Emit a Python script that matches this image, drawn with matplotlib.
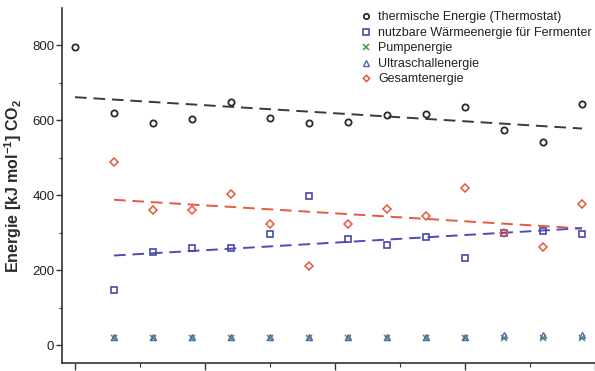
import numpy as np
import matplotlib
matplotlib.use("Agg")
import matplotlib.pyplot as plt
from matplotlib.ticker import MultipleLocator, NullFormatter

plt.rcParams['font.family'] = ['Liberation Sans', 'DejaVu Sans']
plt.rcParams['mathtext.fontset'] = 'custom'
plt.rcParams['mathtext.rm'] = 'Liberation Sans'
plt.rcParams['mathtext.it'] = 'Liberation Sans:italic'
plt.rcParams['mathtext.bf'] = 'Liberation Sans:bold'

# x positions of measurements (arbitrary units, no tick labels in the original)
x_all = [0, 3, 6, 9, 12, 15, 18, 21, 24, 27, 30, 33, 36, 39]
x_rest = x_all[1:]

thermisch = [795, 620, 593, 603, 648, 605, 591, 594, 613, 616, 634, 573, 541, 644]
nutzbar = [147, 247, 260, 260, 296, 397, 284, 267, 289, 231, 298, 305, 296]
pumpe = [18, 18, 18, 18, 18, 18, 18, 18, 18, 18, 18, 18, 18]
ultraschall = [21, 21, 21, 21, 21, 21, 21, 21, 21, 21, 27, 27, 28]
gesamt = [489, 360, 360, 404, 324, 211, 324, 364, 344, 420, 300, 262, 377]

labels = ["thermische Energie (Thermostat)",
          "nutzbare Wärmeenergie für Fermenter",
          "Pumpenergie",
          "Ultraschallenergie",
          "Gesamtenergie"]

c_black = '#2b2b2b'
c_blue = '#4a45a8'
c_green = '#3c9a4c'
c_tri = '#5566c0'
c_red = '#e4573d'

fig = plt.figure(figsize=(5.95, 3.71), dpi=100)
ax = fig.add_axes([62/595, 8/371, 1 - 62/595, 1 - 16/371])

ax.plot(x_all, thermisch, 'o', ms=4.5, mfc='none', mec=c_black, mew=1.3, label=labels[0], zorder=3)
ax.plot(x_rest, nutzbar, 's', ms=4.8, mfc='none', mec=c_blue, mew=1.2, label=labels[1], zorder=3)
ax.plot(x_rest, pumpe, 'x', ms=4.5, mec=c_green, mew=1.1, label=labels[2], zorder=3)
ax.plot(x_rest, ultraschall, '^', ms=4.5, mfc='none', mec=c_tri, mew=1.0, label=labels[3], zorder=3)
ax.plot(x_rest, gesamt, 'D', ms=3.8, mfc='none', mec=c_red, mew=1.1, label=labels[4], zorder=3)

# linear trend lines
def trend(x, y, color):
    x = np.asarray(x, float)
    p = np.polyfit(x, np.asarray(y, float), 1)
    xx = np.array([x.min(), x.max()])
    ax.plot(xx, np.polyval(p, xx), color=color, lw=1.4, dashes=(6, 3.5), zorder=2)

trend(x_all, thermisch, '#3a3a3a')
trend(x_rest, gesamt, '#e8583f')
trend(x_rest, nutzbar, '#4d4db5')

ax.set_xlim(-1, 40)
ax.set_ylim(-48, 899)

for s in ['top', 'right']:
    ax.spines[s].set_visible(False)
for s in ['left', 'bottom']:
    ax.spines[s].set_color('#333333')
    ax.spines[s].set_linewidth(1.2)

ax.xaxis.set_major_locator(MultipleLocator(10))
ax.xaxis.set_minor_locator(MultipleLocator(5))
ax.xaxis.set_major_formatter(NullFormatter())
ax.yaxis.set_major_locator(MultipleLocator(200))
ax.yaxis.set_minor_locator(MultipleLocator(100))
ax.tick_params(axis='x', which='major', length=5, width=1.0, color='#333333')
ax.tick_params(axis='x', which='minor', length=3, width=0.8, color='#333333')
ax.tick_params(axis='y', which='major', length=4, width=1.0, color='#333333',
               labelsize=9.5, labelcolor='#222222', pad=1.5)
ax.tick_params(axis='y', which='minor', length=2.5, width=0.8, color='#333333')

ax.set_ylabel(r"Energie [kJ mol$\mathbf{^{-1}}$] CO$\mathbf{_2}$", fontsize=11.5,
              fontweight='bold', color='#2a2a2a', labelpad=6)

leg = ax.legend(loc='upper left', bbox_to_anchor=(0.542, 1.015), frameon=False,
                fontsize=9.0, handletextpad=0.5, labelspacing=0.28,
                handlelength=1.0, borderaxespad=0.3, markerscale=0.85)
for t in leg.get_texts():
    t.set_color('#222222')

fig.savefig('out.png', dpi=100)
